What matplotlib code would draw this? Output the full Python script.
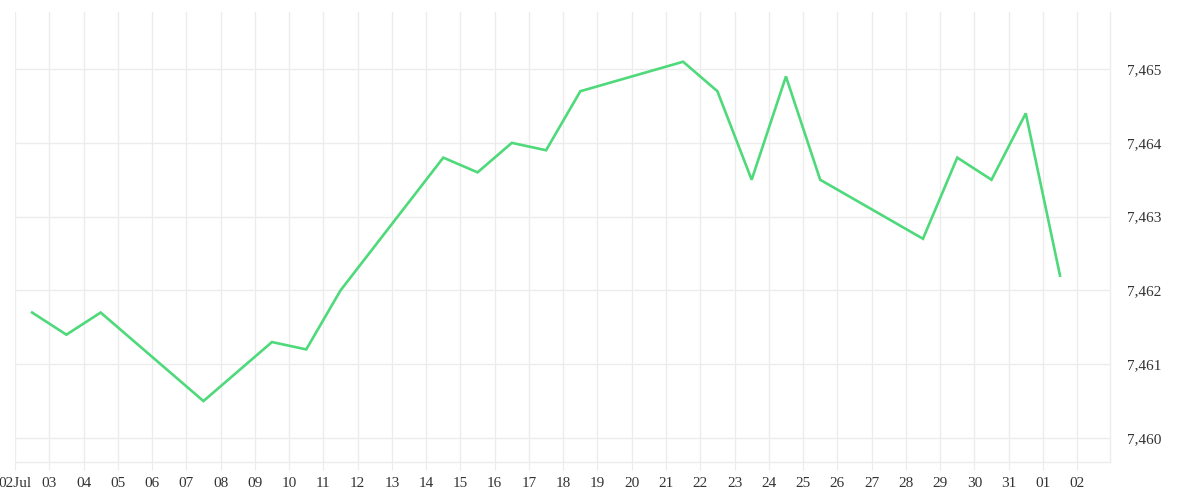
import numpy as np
import pandas as pd
import matplotlib
matplotlib.use("Agg")
import matplotlib.pyplot as plt
import matplotlib.dates as mdates
from matplotlib.ticker import FuncFormatter

# daily rates (plotted at midday)
dates = ["2025-07-02", "2025-07-03", "2025-07-04", "2025-07-07", "2025-07-09",
         "2025-07-10", "2025-07-11", "2025-07-14", "2025-07-15", "2025-07-16",
         "2025-07-17", "2025-07-18", "2025-07-21", "2025-07-22", "2025-07-23",
         "2025-07-24", "2025-07-25", "2025-07-28", "2025-07-29", "2025-07-30",
         "2025-07-31", "2025-08-01"]
rates = [7.4617, 7.4614, 7.4617, 7.4605, 7.4613,
         7.4612, 7.4620, 7.4638, 7.4636, 7.4640,
         7.4639, 7.4647, 7.4651, 7.4647, 7.4635,
         7.4649, 7.4635, 7.4627, 7.4638, 7.4635,
         7.4644, 7.4622]
y_ticks = [7.460, 7.461, 7.462, 7.463, 7.464, 7.465]

x = pd.to_datetime(dates) + pd.Timedelta(hours=12)
tick_days = pd.date_range("2025-07-02", "2025-08-02", freq="D")

plt.rcParams['font.family'] = ['Liberation Serif', 'DejaVu Serif']

fig = plt.figure(figsize=(12, 5), dpi=100)
ax = fig.add_axes([15 / 1200, 38 / 500, 1095 / 1200, 450 / 500])

ax.plot(x, rates, color='#4ed97a', linewidth=1.9, solid_joinstyle='miter')

ax.set_xlim(pd.Timestamp("2025-07-02"), pd.Timestamp("2025-08-02 23:00"))
ax.set_ylim(7.459674, 7.465774)

ax.set_xticks(tick_days)
labels = [d.strftime("%d") for d in tick_days]
labels[0] = "02Jul"
ax.set_xticklabels(labels)
ax.set_yticks(y_ticks)
ax.yaxis.set_major_formatter(FuncFormatter(lambda v, p: f"{v:.3f}".replace(".", ",")))
ax.yaxis.tick_right()

ax.grid(True, color='#ececec', linewidth=1)
ax.tick_params(axis='x', length=6, color='#ececec', labelsize=11, labelcolor='#333333', pad=5)
ax.tick_params(axis='y', length=0, labelsize=11, labelcolor='#333333', pad=12)

for side in ['top', 'left']:
    ax.spines[side].set_visible(False)
for side in ['bottom', 'right']:
    ax.spines[side].set_color('#ececec')
    ax.spines[side].set_linewidth(1)

fig.savefig("out.png", dpi=100)
